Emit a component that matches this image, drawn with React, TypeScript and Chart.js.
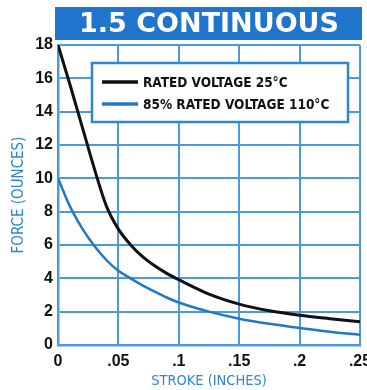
import React, { useEffect, useRef } from "react";
import { Chart, registerables } from "chart.js";

Chart.register(...registerables);

const chartTitle = "1.5 CONTINUOUS";
const xAxisTitle = "STROKE (INCHES)";
const yAxisTitle = "FORCE (OUNCES)";
const xTicks = [0, 0.05, 0.1, 0.15, 0.2, 0.25];
const xTickLabels = ["0", ".05", ".1", ".15", ".2", ".25"];
const seriesNames = ["RATED VOLTAGE 25°C", "85% RATED VOLTAGE 110°C"];

const ratedStroke = [0, 0.01, 0.02, 0.03, 0.04, 0.05, 0.06, 0.07, 0.08, 0.09, 0.1, 0.125, 0.15, 0.175, 0.2, 0.225, 0.25];
const ratedForce = [18, 15.6, 13.1, 10.6, 8.35, 6.95, 6.02, 5.3, 4.75, 4.3, 3.92, 3.05, 2.45, 2.05, 1.78, 1.58, 1.4];

const hotStroke = [0, 0.01, 0.02, 0.03, 0.04, 0.05, 0.06, 0.07, 0.08, 0.09, 0.1, 0.125, 0.15, 0.175, 0.2, 0.225, 0.25];
const hotForce = [10, 8.3, 7.0, 5.95, 5.1, 4.45, 4.0, 3.58, 3.2, 2.85, 2.55, 2.0, 1.58, 1.27, 1.02, 0.8, 0.62];

const BLUE = "#2f86d6";
const GRID = "#4a9ae0";
const TITLE_BG = "#1f74cc";
const CURVE_BLUE = "#1f78c8";

const titleBoxPlugin = {
  id: "titleBox",
  beforeDraw(chart: any) {
    const { ctx, chartArea } = chart;
    ctx.save();
    ctx.fillStyle = TITLE_BG;
    ctx.fillRect(chartArea.left - 3, 7, chartArea.right - chartArea.left + 5, 33);
    ctx.restore();
  },
};

const legendBoxPlugin = {
  id: "legendBox",
  afterDatasetsDraw(chart: any) {
    const { ctx, chartArea } = chart;
    const x = chartArea.left + 34;
    const y = chartArea.top + 18;
    const w = 256;
    const h = 59;
    ctx.save();
    ctx.fillStyle = "#ffffff";
    ctx.fillRect(x, y, w, h);
    ctx.strokeStyle = BLUE;
    ctx.lineWidth = 2.5;
    ctx.strokeRect(x, y, w, h);
    chart.data.datasets.forEach((ds: any, i: number) => {
      const ly = y + 19 + i * 22;
      ctx.strokeStyle = ds.borderColor;
      ctx.lineWidth = 3.5;
      ctx.beginPath();
      ctx.moveTo(x + 10, ly);
      ctx.lineTo(x + 46, ly);
      ctx.stroke();
      ctx.fillStyle = "#111111";
      ctx.font = "bold 13.5px 'DejaVu Sans Condensed'";
      ctx.textBaseline = "middle";
      ctx.textAlign = "left";
      ctx.fillText(ds.label, x + 51, ly + 1);
    });
    ctx.restore();
  },
};

export default function App() {
  const ref = useRef<HTMLCanvasElement | null>(null);
  useEffect(() => {
    if (!ref.current) return;
    const chart = new Chart(ref.current, {
      type: "line",
      data: {
        datasets: [
          {
            label: seriesNames[0],
            data: ratedStroke.map((s, i) => ({ x: s, y: ratedForce[i] })),
            borderColor: "#111111",
            borderWidth: 3,
            pointRadius: 0,
            cubicInterpolationMode: "monotone",
          },
          {
            label: seriesNames[1],
            data: hotStroke.map((s, i) => ({ x: s, y: hotForce[i] })),
            borderColor: CURVE_BLUE,
            borderWidth: 2.5,
            pointRadius: 0,
            cubicInterpolationMode: "monotone",
          },
        ],
      },
      options: {
        responsive: false,
        animation: false,
        layout: { padding: { left: 0, right: 7, top: 0, bottom: 0 } },
        plugins: {
          legend: { display: false },
          tooltip: { enabled: false },
          title: {
            display: true,
            text: chartTitle,
            fullSize: false,
            color: "#ffffff",
            font: { family: "'DejaVu Sans'", size: 27, weight: "bold", lineHeight: 1.2 },
            padding: { top: 9, bottom: 3.6 },
          },
        },
        scales: {
          x: {
            type: "linear",
            min: 0,
            max: 0.25,
            afterBuildTicks: (scale: any) => {
              scale.ticks = xTicks.map((v) => ({ value: v }));
            },
            afterFit: (scale: any) => {
              scale.height = 45;
              scale.paddingRight = 0;
              scale.paddingLeft = 0;
            },
            grid: { color: GRID, lineWidth: 2, drawTicks: false },
            border: { display: true, color: GRID, width: 2.5 },
            ticks: {
              padding: 7,
              color: "#111111",
              font: { family: "'Liberation Sans'", size: 16, weight: "bold" },
              maxRotation: 0,
              autoSkip: false,
              callback: (_v: any, i: number) => xTickLabels[i],
            },
            title: {
              display: true,
              text: xAxisTitle,
              color: BLUE,
              font: { family: "'DejaVu Sans Condensed'", size: 14.5 },
              padding: { top: 0, bottom: 0 },
            },
          },
          y: {
            min: 0,
            max: 18,
            afterFit: (scale: any) => {
              scale.width = 58;
            },
            grid: { color: GRID, lineWidth: 2, drawTicks: false },
            border: { display: true, color: GRID, width: 2.5 },
            ticks: {
              stepSize: 2,
              padding: 5,
              color: "#111111",
              font: { family: "'Liberation Sans'", size: 16, weight: "bold" },
            },
            title: {
              display: true,
              text: yAxisTitle,
              color: BLUE,
              font: { family: "'DejaVu Sans Condensed'", size: 15 },
              padding: { top: 10.5, bottom: 0 },
            },
          },
        },
      },
      plugins: [titleBoxPlugin, legendBoxPlugin],
    } as any);
    return () => chart.destroy();
  }, []);
  return (
    <div style={{ position: "absolute", left: 0, top: 0, width: 367, height: 390, overflow: "hidden" }}>
      <canvas ref={ref} width={367} height={390} style={{ display: "block" }} />
    </div>
  );
}
